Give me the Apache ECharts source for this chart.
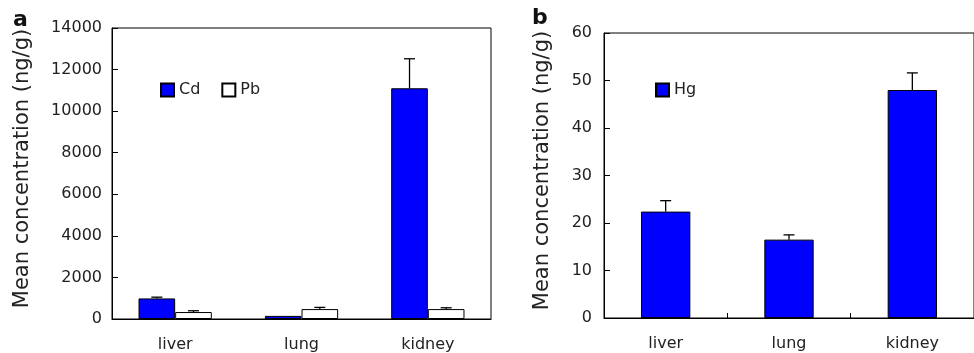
<!DOCTYPE html>
<html style="height: 100%;margin: 0;padding: 0;">
<head>
    <meta charset="utf-8">
    <title>Mean concentration</title>
    <script src="https://cdnjs.cloudflare.com/ajax/libs/echarts/6.0.0/echarts.min.js"></script>
</head>
<body style="margin:0;padding:0;background:#fff;">
<div id="main" style="width:974px;height:353px;"></div>
<script type="text/javascript">
    // data
    var categories = ['liver', 'lung', 'kidney'];
    var cdMean = [990, 150, 11100];
    var cdErr = [60, 0, 1420];
    var pbMean = [335, 478, 478];
    var pbErr = [62, 80, 62];
    var hgMean = [22.4, 16.5, 48.0];
    var hgErr = [2.3, 1.0, 3.6];
    var yTicksA = [0, 14000, 2000];
    var yTicksB = [0, 60, 10];

    var font = 'DejaVu Sans';
    var txt = '#222';

    function withErr(mean, err) {
        var out = [];
        for (var i = 0; i < mean.length; i++) out.push([i, mean[i], err[i]]);
        return out;
    }

    // error bar drawn above the bar; off = bar centre offset as fraction of band
    function errBar(off) {
        return function (params, api) {
            var i = api.value(0), v = api.value(1), e = api.value(2);
            if (!e) return null;
            var p0 = api.coord([i, v]);
            var p1 = api.coord([i, v + e]);
            var band = api.size([1, 0])[0];
            var cx = p0[0] + band * off;
            var hw = 5.5;
            var st = { stroke: '#000', lineWidth: 1.3 };
            return {
                type: 'group',
                children: [
                    { type: 'line', shape: { x1: cx, y1: p0[1], x2: cx, y2: p1[1] }, style: st },
                    { type: 'line', shape: { x1: cx - hw, y1: p1[1], x2: cx + hw, y2: p1[1] }, style: st }
                ]
            };
        };
    }

    function yAxis(idx, t, margin, gap) {
        return {
            type: 'value', gridIndex: idx, min: t[0], max: t[1], interval: t[2],
            name: 'Mean concentration (ng/g)', nameLocation: 'middle', nameGap: gap,
            nameTextStyle: { fontFamily: font, fontSize: 21, color: txt, padding: [0, 0, 0, 10] },
            axisLine: { show: true, lineStyle: { color: '#000', width: 1 } },
            axisTick: { show: true, inside: true, length: 6, lineStyle: { color: '#000' } },
            axisLabel: {
                fontFamily: font, fontSize: 16, color: txt, margin: margin,
                formatter: function (v) { return String(v); }
            },
            splitLine: { show: false }
        };
    }

    var myChart = echarts.init(document.getElementById('main'));
    var option = {
        animation: false,
        backgroundColor: '#fff',
        title: [
            { text: 'a', left: 13, top: 9, padding: 0, textStyle: { fontFamily: font, fontSize: 22, fontWeight: 'bold', color: '#111' } },
            { text: 'b', left: 532, top: 7, padding: 0, textStyle: { fontFamily: font, fontSize: 22, fontWeight: 'bold', color: '#111' } }
        ],
        legend: [
            {
                data: ['Cd', 'Pb'], left: 160, top: 82, padding: 0, itemWidth: 13, itemHeight: 13, itemGap: 21,
                icon: 'rect', textStyle: { fontFamily: font, fontSize: 16, color: txt }
            },
            {
                data: ['Hg'], left: 655, top: 82, padding: 0, itemWidth: 13, itemHeight: 13,
                icon: 'rect', textStyle: { fontFamily: font, fontSize: 16, color: txt }
            }
        ],
        grid: [
            { left: 112, top: 28, width: 379, height: 293, show: true, borderColor: '#000', borderWidth: 1, backgroundColor: 'transparent' },
            { left: 604, top: 33, width: 385, height: 285, show: true, borderColor: '#000', borderWidth: 1, backgroundColor: 'transparent' }
        ],
        xAxis: [
            {
                type: 'category', gridIndex: 0, data: categories,
                axisLine: { lineStyle: { color: '#000' } },
                axisTick: { show: false },
                axisLabel: { fontFamily: font, fontSize: 16, color: txt, margin: 18 }
            },
            {
                type: 'category', gridIndex: 1, data: categories,
                axisLine: { lineStyle: { color: '#000' } },
                axisTick: { show: true, inside: true, length: 5, lineStyle: { color: '#000' } },
                axisLabel: { fontFamily: font, fontSize: 16, color: txt, margin: 18 }
            }
        ],
        yAxis: [yAxis(0, yTicksA, 10, 79), yAxis(1, yTicksB, 12, 51)],
        series: [
            {
                name: 'Cd', type: 'bar', xAxisIndex: 0, yAxisIndex: 0, data: cdMean,
                barWidth: '29%', barGap: '0%',
                itemStyle: { color: '#0000ff', borderColor: '#000', borderWidth: 1 }
            },
            {
                name: 'Pb', type: 'bar', xAxisIndex: 0, yAxisIndex: 0, data: pbMean,
                barWidth: '29%', barGap: '0%',
                itemStyle: { color: '#fff', borderColor: '#000', borderWidth: 1 }
            },
            {
                name: 'Hg', type: 'bar', xAxisIndex: 1, yAxisIndex: 1, data: hgMean,
                barWidth: '40%',
                itemStyle: { color: '#0000ff', borderColor: '#000', borderWidth: 1 }
            },
            {
                type: 'custom', xAxisIndex: 0, yAxisIndex: 0, z: 5,
                renderItem: errBar(-0.145), data: withErr(cdMean, cdErr)
            },
            {
                type: 'custom', xAxisIndex: 0, yAxisIndex: 0, z: 5,
                renderItem: errBar(0.145), data: withErr(pbMean, pbErr)
            },
            {
                type: 'custom', xAxisIndex: 1, yAxisIndex: 1, z: 5,
                renderItem: errBar(0), data: withErr(hgMean, hgErr)
            }
        ]
    };
    myChart.setOption(option);
</script>
</body>
</html>
